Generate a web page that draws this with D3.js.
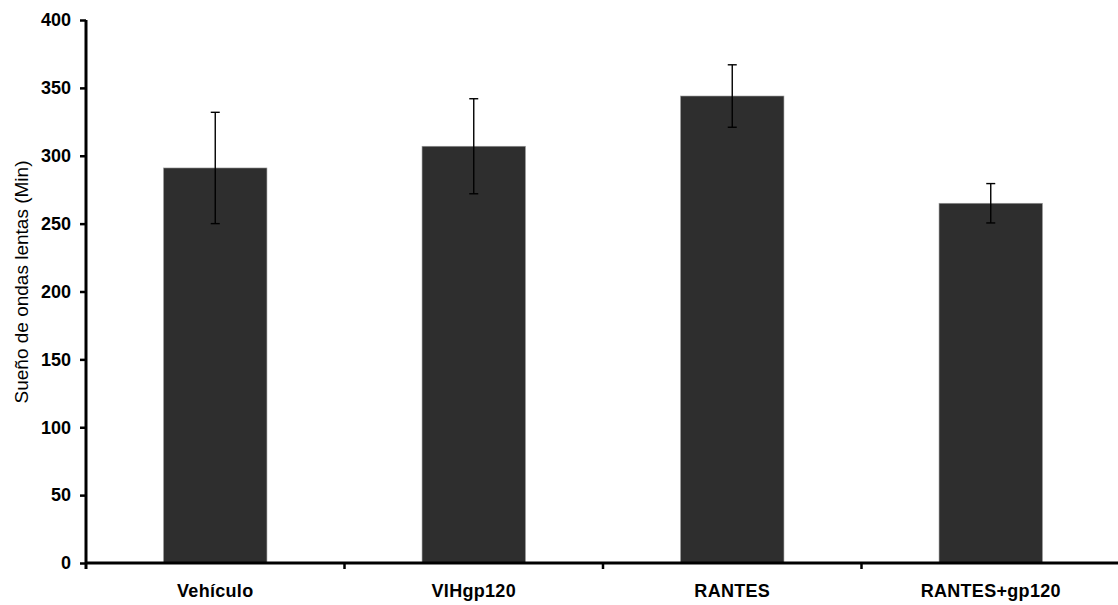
<!DOCTYPE html>
<html>
<head>
	<meta charset="UTF-8" />
	<title>Sueño de ondas lentas</title>
	<script src="https://d3js.org/d3.v7.min.js"></script>
	<style>
		body { margin: 0; background: #fff; }
		text { font-family: "Liberation Sans", Arial, sans-serif; font-weight: bold; fill: #000; }
	</style>
</head>
<body>
	<div id="main"></div>
	<script type="text/javascript">
		var categories = ['Vehículo', 'VIHgp120', 'RANTES', 'RANTES+gp120'];
		var means = [291, 307, 344, 265];
		var errors = [41, 35, 23, 14.5];
		var yTicks = [0, 50, 100, 150, 200, 250, 300, 350, 400];
		var yLabel = 'Sueño de ondas lentas (Min)';

		var width = 1118, height = 605;
		var plotLeft = 86, plotRight = 1120, plotTop = 20, plotBottom = 563;

		var svg = d3.select('#main').append('svg').attr('width', width).attr('height', height);

		var x = d3.scaleBand().domain(categories).range([plotLeft, plotRight])
			.paddingInner(0.6).paddingOuter(0.3);
		var y = d3.scaleLinear().domain([0, 400]).range([plotBottom, plotTop]);

		var data = categories.map(function (c, i) { return { cat: c, v: means[i], e: errors[i] }; });

		// bars
		svg.append('g').selectAll('rect').data(data).enter()
			.append('rect')
			.attr('x', d => x(d.cat))
			.attr('y', d => y(d.v))
			.attr('width', x.bandwidth())
			.attr('height', d => y(0) - y(d.v))
			.attr('fill', '#2e2e2e')
			.attr('stroke', '#9a9a9a')
			.attr('stroke-width', 0.6);

		// error bars
		var eb = svg.append('g').attr('stroke', '#000').attr('stroke-width', 1.4);
		data.forEach(function (d) {
			var cx = x(d.cat) + x.bandwidth() / 2;
			eb.append('line').attr('x1', cx).attr('x2', cx).attr('y1', y(d.v + d.e)).attr('y2', y(d.v - d.e));
			eb.append('line').attr('x1', cx - 4.5).attr('x2', cx + 4.5).attr('y1', y(d.v + d.e)).attr('y2', y(d.v + d.e));
			eb.append('line').attr('x1', cx - 4.5).attr('x2', cx + 4.5).attr('y1', y(d.v - d.e)).attr('y2', y(d.v - d.e));
		});

		// y axis
		var yAxis = svg.append('g').attr('transform', 'translate(' + plotLeft + ',0)')
			.call(d3.axisLeft(y).tickValues(yTicks).tickSize(6).tickSizeOuter(0).tickPadding(9));
		yAxis.select('.domain').remove();
		yAxis.selectAll('.tick line').attr('stroke', '#000').attr('stroke-width', 2.5);
		yAxis.selectAll('.tick text').attr('font-size', '18px').attr('font-family', null).attr('fill', '#000');
		svg.append('line').attr('x1', plotLeft).attr('x2', plotLeft).attr('y1', plotTop).attr('y2', plotBottom + 6)
			.attr('stroke', '#000').attr('stroke-width', 3);

		// x axis
		svg.append('line').attr('x1', plotLeft).attr('x2', width).attr('y1', plotBottom).attr('y2', plotBottom)
			.attr('stroke', '#000').attr('stroke-width', 3);
		var step = x.step();
		var bounds = d3.range(1, categories.length).map(i => plotLeft + i * step);
		svg.append('g').selectAll('line').data(bounds).enter()
			.append('line').attr('x1', d => d).attr('x2', d => d).attr('y1', plotBottom).attr('y2', plotBottom + 6)
			.attr('stroke', '#000').attr('stroke-width', 2.5);
		svg.append('g').selectAll('text').data(categories).enter()
			.append('text')
			.attr('x', d => x(d) + x.bandwidth() / 2)
			.attr('y', 597)
			.attr('text-anchor', 'middle')
			.attr('font-size', '18px')
			.style('letter-spacing', '0.3px')
			.text(d => d);

		// y label
		svg.append('text')
			.attr('transform', 'translate(28,282) rotate(-90)')
			.attr('text-anchor', 'middle')
			.attr('font-size', '19px')
			.style('font-weight', 'normal')
			.text(yLabel);
	</script>
</body>
</html>
